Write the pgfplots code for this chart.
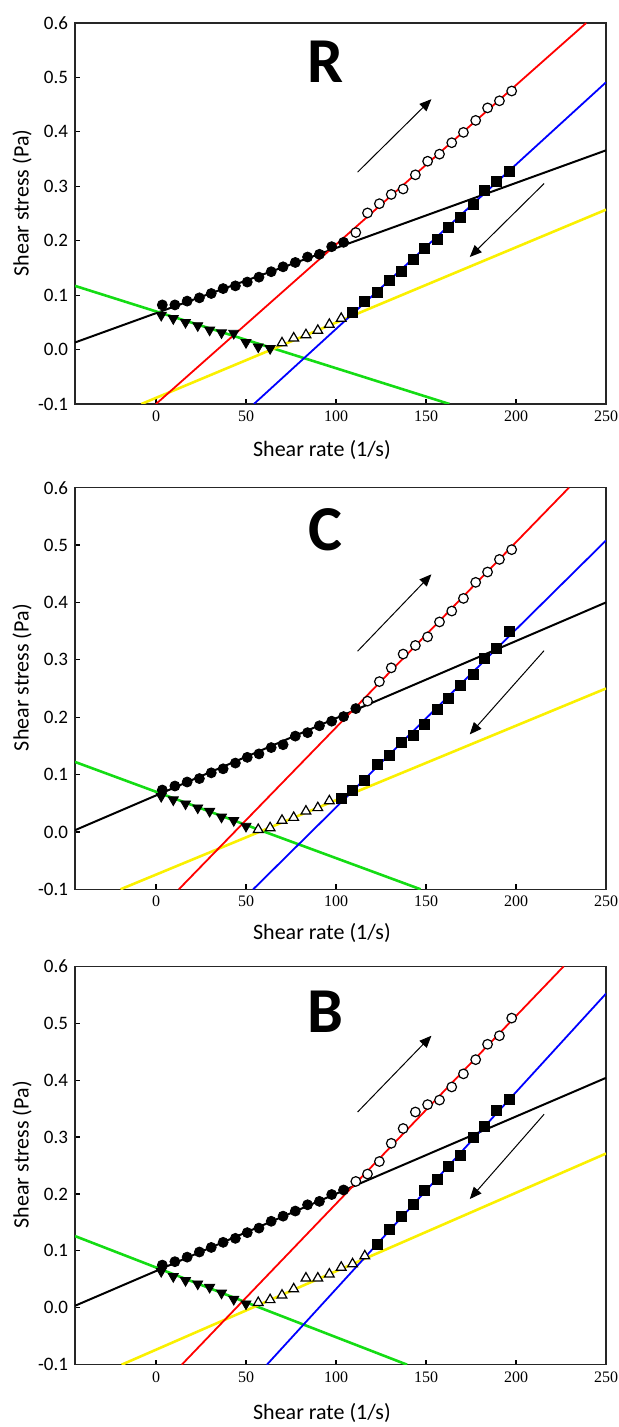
\documentclass[border=0pt]{standalone}
\usepackage{fontspec}
\setmainfont{Carlito}
\newfontfamily\tnr{Liberation Serif}
\usepackage{pgfplots}
\pgfplotsset{compat=1.18}
\usetikzlibrary{arrows.meta}

\definecolor{lgreen}{RGB}{20,220,20}
\definecolor{lyellow}{RGB}{250,240,0}

\pgfplotsset{
  panel/.style={
    scale only axis, width=265.5pt,
    xmin=-45, xmax=250, ymin=-0.1, ymax=0.6,
    xtick={0,50,100,150,200,250},
    ytick={-0.1,0,0.1,0.2,0.3,0.4,0.5,0.6},
    tick pos=left, tick align=inside, major tick length=2.5pt,
    tick style={line width=0.6pt, black},
    axis line style={line width=0.75pt, black!85},
    /pgf/number format/assume math mode=true,
    yticklabel style={font=\fontsize{9.5}{10}\selectfont,
      /pgf/number format/fixed, /pgf/number format/fixed zerofill,
      /pgf/number format/precision=1},
    xticklabel style={font=\tnr\fontsize{8}{9}\selectfont},
    ylabel={Shear stress (Pa)}, xlabel={Shear rate (1/s)},
    label style={font=\fontsize{11}{13}\selectfont},
    ylabel style={at={(axis description cs:-0.0998,0.527)}, anchor=center},
  },
  fitline/.style={no marks, line width=#1},
  upfill/.style={only marks, mark=*, mark size=2.5pt, mark options={fill=black, draw=black}},
  upopen/.style={only marks, mark=*, mark size=2.4pt, mark options={fill=white, draw=black, line width=0.6pt}},
  dnsq/.style={only marks, mark=square*, mark size=2.5pt, mark options={fill=black, draw=black}},
  dntri/.style={only marks, mark=triangle*, mark size=2.8pt, mark options={fill=white, draw=black, line width=0.6pt}},
  dninv/.style={only marks, mark=triangle*, mark size=2.9pt, mark options={fill=black, draw=black, rotate=180}},
}
\tikzset{bigarrow/.style={line width=0.5pt, -{Triangle[length=6pt,width=5pt]}}}
\newcommand{\panellabel}[1]{{\fontsize{32}{34}\selectfont\bfseries #1}}

\begin{document}
\begin{tikzpicture}
\useasboundingbox (0,0) rectangle (309pt,713.5pt);

% ---------------- R ----------------
\begin{axis}[panel, height=190.5pt, at={(37.5pt,511.5pt)}, anchor=south west,
  xlabel style={at={(axis description cs:0.465,0)}, anchor=center, yshift=-23pt}]
\addplot[fitline=1pt, black] coordinates {(-45,0.013) (250,0.366)};
\addplot[fitline=1.3pt, lgreen] coordinates {(-45,0.117) (163,-0.1)};
\addplot[fitline=1.3pt, lyellow] coordinates {(-8.1,-0.1) (250,0.257)};
\addplot[fitline=0.9pt, red] coordinates {(0,-0.1) (239,0.6)};
\addplot[fitline=0.9pt, blue] coordinates {(54.4,-0.1) (250,0.491)};
\addplot[upfill] coordinates {(3.5,0.082)(10.5,0.082)(17.3,0.089)(24.1,0.095)(30.7,0.103)(37.3,0.112)(44.1,0.117)(50.7,0.124)(57.2,0.133)(64.0,0.143)(70.6,0.152)(77.4,0.160)(84.2,0.170)(90.8,0.175)(97.6,0.189)(104.2,0.197)};
\addplot[upopen] coordinates {(111,0.215)(117.5,0.251)(124.1,0.268)(130.7,0.285)(137.3,0.295)(144.1,0.321)(150.9,0.346)(157.5,0.359)(164.3,0.380)(170.8,0.399)(177.6,0.421)(184.2,0.444)(190.8,0.457)(197.6,0.475)};
\addplot[dnsq] coordinates {(109.2,0.068)(116,0.089)(122.8,0.105)(129.4,0.127)(136.2,0.144)(142.8,0.165)(149.3,0.186)(156.1,0.203)(162.7,0.224)(169.3,0.242)(176.1,0.267)(182.7,0.292)(189.3,0.309)(196.1,0.327)};
\addplot[dntri] coordinates {(70,0.012)(76.5,0.021)(83.3,0.027)(89.9,0.035)(96.3,0.046)(102.9,0.057)};
\addplot[dninv] coordinates {(2.9,0.063)(9.6,0.057)(16.4,0.050)(23.2,0.044)(29.8,0.036)(36.4,0.031)(43.2,0.030)(50,0.013)(56.8,0.005)(63.4,0.002)};
\draw[bigarrow] (axis cs:112,0.326) -- (axis cs:153,0.46);
\draw[bigarrow] (axis cs:215.6,0.305) -- (axis cs:174.3,0.170);
\node at (axis cs:94,0.528) {\panellabel{R}};
\end{axis}

% ---------------- C ----------------
\begin{axis}[panel, height=200.8pt, at={(37.5pt,268.85pt)}, anchor=south west,
  xlabel style={at={(axis description cs:0.465,0)}, anchor=center, yshift=-22pt}]
\addplot[fitline=1pt, black] coordinates {(-45,0.003) (250,0.40)};
\addplot[fitline=1.3pt, lgreen] coordinates {(-45,0.122) (147,-0.1)};
\addplot[fitline=1.3pt, lyellow] coordinates {(-19.7,-0.1) (250,0.250)};
\addplot[fitline=0.9pt, red] coordinates {(12.7,-0.1) (229.4,0.6)};
\addplot[fitline=0.9pt, blue] coordinates {(54,-0.1) (250,0.508)};
\addplot[upfill] coordinates {(3.5,0.073)(10.5,0.080)(17.3,0.087)(24.1,0.093)(30.7,0.103)(37.3,0.110)(44.1,0.120)(50.7,0.130)(57.2,0.136)(64.0,0.147)(70.6,0.152)(77.4,0.167)(84.2,0.173)(90.8,0.185)(97.6,0.193)(104.2,0.201)(111,0.215)};
\addplot[upopen] coordinates {(117.5,0.228)(124.1,0.262)(130.7,0.286)(137.3,0.310)(144.1,0.325)(150.9,0.340)(157.5,0.366)(164.3,0.385)(170.8,0.407)(177.6,0.435)(184.2,0.453)(190.8,0.475)(197.6,0.492)};
\addplot[dnsq] coordinates {(102.9,0.059)(109.2,0.073)(116,0.090)(122.8,0.117)(129.4,0.134)(136.2,0.156)(142.8,0.169)(149.3,0.188)(156.1,0.213)(162.7,0.232)(169.3,0.255)(176.1,0.274)(182.7,0.303)(189.3,0.320)(196.1,0.349)};
\addplot[dntri] coordinates {(56.8,0.004)(63.4,0.007)(70,0.020)(76.5,0.025)(83.3,0.036)(89.9,0.042)(96.3,0.054)};
\addplot[dninv] coordinates {(2.9,0.062)(9.6,0.056)(16.4,0.049)(23.2,0.042)(29.8,0.036)(36.4,0.026)(43.2,0.020)(50,0.010)};
\draw[bigarrow] (axis cs:112,0.315) -- (axis cs:153,0.449);
\draw[bigarrow] (axis cs:215.6,0.316) -- (axis cs:174.3,0.170);
\node at (axis cs:94,0.526) {\panellabel{C}};
\end{axis}

% ---------------- B ----------------
\begin{axis}[panel, height=199.2pt, at={(37.5pt,31.15pt)}, anchor=south west,
  xlabel style={at={(axis description cs:0.465,0)}, anchor=center, yshift=-24pt}]
\addplot[fitline=1pt, black] coordinates {(-45,0.0035) (250,0.404)};
\addplot[fitline=1.3pt, lgreen] coordinates {(-45,0.126) (139.5,-0.1)};
\addplot[fitline=1.3pt, lyellow] coordinates {(-19.1,-0.1) (250,0.271)};
\addplot[fitline=0.9pt, red] coordinates {(14.3,-0.1) (226.5,0.6)};
\addplot[fitline=0.9pt, blue] coordinates {(61.6,-0.1) (250,0.552)};
\addplot[upfill] coordinates {(3.5,0.075)(10.5,0.081)(17.3,0.089)(24.1,0.098)(30.7,0.106)(37.3,0.115)(44.1,0.122)(50.7,0.132)(57.2,0.140)(64.0,0.152)(70.6,0.161)(77.4,0.170)(84.2,0.181)(90.8,0.187)(97.6,0.199)(104.2,0.207)};
\addplot[upopen] coordinates {(111,0.222)(117.5,0.235)(124.1,0.257)(130.7,0.289)(137.3,0.315)(144.1,0.344)(150.9,0.357)(157.5,0.365)(164.3,0.388)(170.8,0.411)(177.6,0.436)(184.2,0.463)(190.8,0.478)(197.6,0.509)};
\addplot[dnsq] coordinates {(122.8,0.112)(129.4,0.138)(136.2,0.161)(142.8,0.182)(149.3,0.206)(156.1,0.225)(162.7,0.248)(169.3,0.268)(176.1,0.299)(182.7,0.318)(189.3,0.346)(196.1,0.367)};
\addplot[dntri] coordinates {(56.8,0.009)(63.4,0.014)(70,0.022)(76.5,0.033)(83.3,0.052)(89.9,0.052)(96.3,0.059)(102.9,0.071)(109.2,0.077)(116,0.091)};
\addplot[dninv] coordinates {(2.9,0.064)(9.6,0.055)(16.4,0.048)(23.2,0.042)(29.8,0.036)(36.4,0.026)(43.2,0.015)(50,0.007)};
\draw[bigarrow] (axis cs:112,0.344) -- (axis cs:153,0.478);
\draw[bigarrow] (axis cs:215.6,0.340) -- (axis cs:174.3,0.191);
\node at (axis cs:94,0.520) {\panellabel{B}};
\end{axis}
\end{tikzpicture}
\end{document}
